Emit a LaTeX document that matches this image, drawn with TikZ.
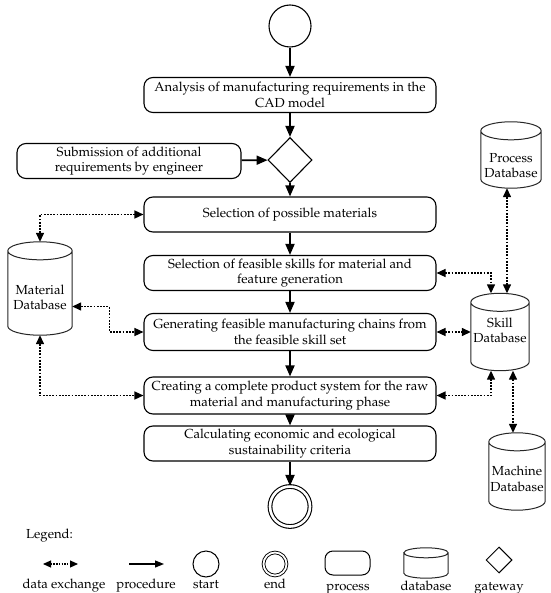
\documentclass[tikz,border=0pt]{standalone}
\usepackage[T1]{fontenc}
\usepackage{mathpazo}
\usetikzlibrary{arrows.meta,shapes.geometric,calc}
\newcommand\dbshape[2][9]{%
  \draw[line width=1pt, black!85] let \p1=(#2.north west), \p2=(#2.south east), \n1={(\x2-\x1)/2} in
    (\x1,\y1-#1pt) -- (\x1,\y2+#1pt)
    arc[start angle=180,end angle=360,x radius=\n1,y radius=#1pt]
    -- (\x2,\y1-#1pt)
    arc[start angle=0,end angle=180,x radius=\n1,y radius=#1pt]
    arc[start angle=180,end angle=360,x radius=\n1,y radius=#1pt];}
\newcommand\dbtext[3]{\raisebox{#1}[0pt][0pt]{\begin{tabular}{@{}c@{}}#2\\#3\end{tabular}}}
\begin{document}
\begin{tikzpicture}[x=1pt,y=1pt,
  font=\fontsize{13.1}{15.5}\selectfont,
  proc/.style={draw, line width=1.1pt, rounded corners=9pt, minimum width=292pt,
    minimum height=35pt, align=center, inner sep=1pt},
  flow/.style={-{Triangle[length=11pt,width=9pt]}, line width=1.8pt},
  data/.style={{Triangle[length=9pt,width=8pt]}-{Triangle[length=9pt,width=8pt]},
    line width=1.4pt, dash pattern=on 1.8pt off 1.4pt},
  dbnode/.style={draw=none, inner sep=0pt, align=center},
  lab/.style={inner sep=0pt, anchor=base}
]
\useasboundingbox (0,0) rectangle (550,-593);

% main flow
\node[circle, draw, line width=1.1pt, minimum size=42pt, inner sep=0pt] (start) at (290,-26) {};
\node[proc] (A) at (290,-95) {Analysis of manufacturing requirements in the\\CAD model};
\node[diamond, draw, line width=1.1pt, minimum width=44pt, minimum height=45pt, inner sep=0pt] (G) at (290,-160) {};
\node[proc, minimum width=224pt] (S) at (129,-161) {Submission of additional\\requirements by engineer};
\node[proc] (B) at (290,-214.5) {Selection of possible materials};
\node[proc] (C) at (290,-273) {Selection of feasible skills for material and\\feature generation};
\node[proc, minimum height=37pt] (D) at (290,-332) {Generating feasible manufacturing chains from\\the feasible skill set};
\node[proc, minimum height=37pt] (E) at (290,-395.5) {Creating a complete product system for the raw\\material and manufacturing phase};
\node[proc] (F) at (290,-443.5) {Calculating economic and ecological\\sustainability criteria};
\node[circle, draw, double, double distance=2.6pt, line width=1.1pt, minimum size=40pt, inner sep=0pt] (end) at (290,-506.5) {};

% databases
\node[dbnode, minimum width=64pt, minimum height=93pt] (mat) at (40,-288.5) {\dbtext{-13.8pt}{Material}{Database}};
\node[dbnode, minimum width=60pt, minimum height=66pt] (pdb) at (511,-155) {\dbtext{-15.3pt}{Process}{Database}};
\node[dbnode, minimum width=58pt, minimum height=77pt] (sdb) at (500,-332) {\dbtext{-3.3pt}{Skill}{Database}};
\node[dbnode, minimum width=56pt, minimum height=77pt] (mdb) at (517,-471.5) {\dbtext{-12.3pt}{Machine}{Database}};
\dbshape{mat}
\dbshape{pdb}
\dbshape{sdb}
\dbshape{mdb}

% procedure arrows
\draw[flow] (start) -- (A);
\draw[flow] (A) -- (G);
\draw[flow] (S) -- (G);
\draw[flow] (G) -- (B);
\draw[flow] (B) -- (C);
\draw[flow] (C) -- (D);
\draw[flow] (D) -- (E);
\draw[flow] (E) -- (F);
\draw[flow] (F) -- (end);

% data exchange
\draw[data] (mat.north) |- (B.west);
\draw[data] ([yshift=-18pt]mat.east) -- ++(37pt,0) |- (D.west);
\draw[data] (mat.south) |- (E.west);
\draw[data] (C.east) -| ([xshift=-9pt]sdb.north);
\draw[data] ([xshift=-4pt]pdb.south) -- ([xshift=-4pt]pdb.south |- sdb.north);
\draw[data] (D.east) -- (sdb.west);
\draw[data] (E.east) -| ([xshift=-9pt]sdb.south);
\draw[data] ([xshift=13pt]sdb.south) -- ([xshift=13pt]sdb.south |- mdb.north);

% legend
\node[inner sep=0pt, anchor=west] (leg) at (26,-536) {Legend:};
\coordinate (dx1) at (43,-564);
\coordinate (dx2) at (78,-564);
\draw[{Triangle[length=8pt,width=7pt]}-{Triangle[length=8pt,width=7pt]}, line width=1.1pt, dash pattern=on 1.5pt off 1.2pt] (dx1) -- (dx2);
\node[lab] (ldx) at (64,-588) {data exchange};
\coordinate (pr1) at (129,-564);
\coordinate (pr2) at (164,-564);
\draw[-{Triangle[length=9pt,width=7pt]}, line width=1.1pt] (pr1) -- (pr2);
\node[lab] (lpr) at (146,-588) {procedure};
\node[circle, draw, line width=1pt, minimum size=26pt, inner sep=0pt] (lst) at (206,-564) {};
\node[lab] (lstl) at (206,-588) {start};
\node[circle, draw, double, double distance=1.8pt, line width=0.9pt, minimum size=23pt, inner sep=0pt] (len) at (275,-564) {};
\node[lab] (lenl) at (275,-588) {end};
\node[draw, line width=1pt, rounded corners=8pt, minimum width=45pt, minimum height=24pt, inner sep=0pt] (lpc) at (347.5,-563) {};
\node[lab] (lpcl) at (348,-590) {process};
\node[dbnode, minimum width=44pt, minimum height=30pt] (ldb) at (426,-563) {};
\dbshape[5]{ldb}
\node[lab] (ldbl) at (426,-590) {database};
\node[diamond, draw, line width=1pt, minimum width=26pt, minimum height=26pt, inner sep=0pt] (lgw) at (499,-560) {};
\node[lab] (lgwl) at (499,-590) {gateway};
\end{tikzpicture}
\end{document}
